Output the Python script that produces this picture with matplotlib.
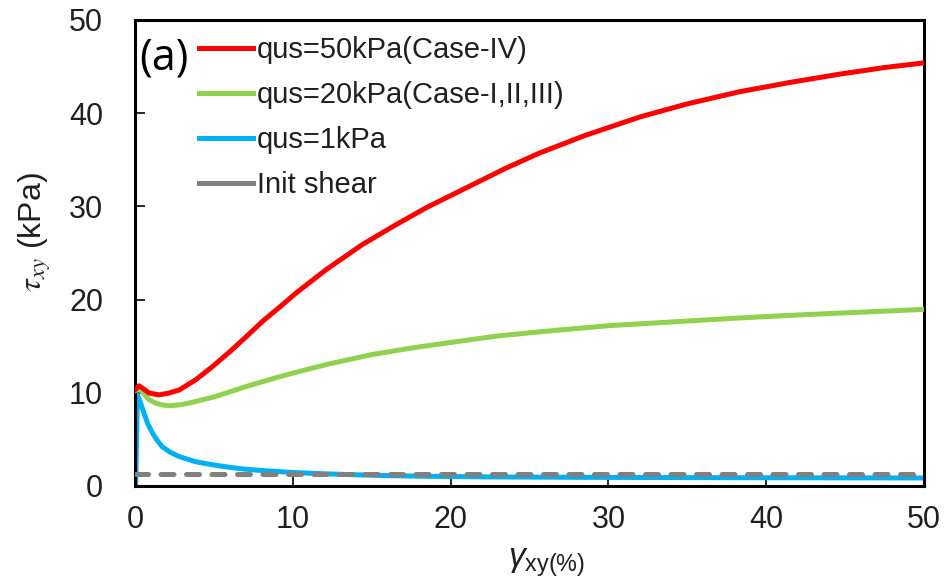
import matplotlib
matplotlib.use("Agg")
import matplotlib.pyplot as plt
from matplotlib.lines import Line2D

plt.rcParams['font.family'] = ['Liberation Sans', 'DejaVu Sans']
plt.rcParams['mathtext.fontset'] = 'custom'
plt.rcParams['mathtext.rm'] = 'Liberation Sans'
plt.rcParams['mathtext.it'] = 'Liberation Sans:italic'

# Shear stress tau_xy (kPa) versus shear strain gamma_xy (%)
x_q50 = [0.0, 0.25, 0.55, 0.9, 1.5, 2.1, 2.8, 3.85, 4.9, 6.0, 7.0, 8.1, 9.1, 10.2,
         12.1, 14.4, 16.5, 18.5, 21.0, 23.5, 25.6, 28.5, 32.0, 35.0, 38.3, 41.5,
         44.7, 47.5, 50.0]
y_q50 = [10.3, 10.75, 10.4, 9.97, 9.78, 9.95, 10.3, 11.4, 12.8, 14.4, 15.95, 17.7,
         19.1, 20.7, 23.2, 25.9, 28.0, 29.9, 32.0, 34.1, 35.7, 37.6, 39.6, 41.0,
         42.3, 43.3, 44.2, 44.9, 45.4]

x_q20 = [0.0, 0.25, 0.6, 0.9, 1.3, 1.7, 2.2, 3.0, 3.85, 5.0, 6.0, 7.0, 8.1, 9.0,
         10.2, 12.3, 15.0, 17.5, 20.0, 23.0, 26.0, 30.0, 34.0, 38.0, 42.0, 46.0, 50.0]
y_q20 = [10.2, 10.5, 9.8, 9.25, 8.9, 8.7, 8.6, 8.75, 9.07, 9.55, 10.1, 10.65, 11.2,
         11.65, 12.2, 13.1, 14.1, 14.8, 15.4, 16.1, 16.6, 17.2, 17.6, 18.0, 18.35,
         18.65, 18.95]

x_q1 = [0.04, 0.15, 0.35, 0.57, 0.8, 1.1, 1.4, 1.73, 2.2, 2.8, 3.85, 5.0, 6.0, 7.0,
        8.1, 10.2, 12.3, 15.0, 18.0, 22.0, 28.0, 35.0, 42.0, 50.0]
y_q1 = [0.0, 9.8, 8.9, 7.8, 6.7, 5.7, 4.9, 4.2, 3.65, 3.15, 2.6, 2.25, 2.0, 1.8,
        1.65, 1.43, 1.29, 1.15, 1.05, 0.98, 0.93, 0.9, 0.88, 0.86]

x_init = [0, 50]
y_init = [1.26, 1.26]

labels = ["qus=50kPa(Case-IV)", "qus=20kPa(Case-I,II,III)", "qus=1kPa", "Init shear"]
colors = ["#FF0000", "#92D050", "#00B0F0", "#808080"]

x_ticks = [0, 10, 20, 30, 40, 50]
y_ticks = [0, 10, 20, 30, 40, 50]

fig = plt.figure(figsize=(9.47, 5.83), dpi=100)
ax = fig.add_axes([0.1426, 0.1664, 0.8331, 0.7993])

lw = 3.6
style = dict(lw=lw, solid_capstyle='round', solid_joinstyle='round')
ax.plot(x_q1, y_q1, color=colors[2], zorder=2, **style)
ax.plot(x_q20, y_q20, color=colors[1], zorder=3, **style)
ax.plot(x_q50, y_q50, color=colors[0], zorder=4, **style)
ax.plot(x_init, y_init, color=colors[3], lw=lw, dashes=(2.6, 2.5),
        dash_capstyle='round', zorder=5)

ax.set_xlim(0, 50)
ax.set_ylim(0, 50)
ax.set_xticks(x_ticks)
ax.set_yticks(y_ticks)
ax.tick_params(direction='in', length=7, width=1.2, labelsize=22,
               labelcolor='#202020')
ax.tick_params(axis='x', pad=14)
ax.tick_params(axis='y', pad=23)
for s in ax.spines.values():
    s.set_linewidth(2.2)
    s.set_color('black')

handles = [Line2D([0], [0], color=c, lw=lw) for c in colors]
ax.legend(handles, labels, loc='upper left', bbox_to_anchor=(0.066, 0.99),
          frameon=False, fontsize=21, handlelength=1.85, handletextpad=0.15,
          labelspacing=0.58, borderaxespad=0.0, labelcolor='#202020')

ax.text(0.25, 45.9, "(a)", fontsize=31, family=['Open Sans', 'DejaVu Sans'],
        va='center', ha='left', color='black')

fig.text(0.037, 0.602, r"$\tau_{xy}$ (kPa)", rotation=90, fontsize=23,
         ha='center', va='center', math_fontfamily='stix', color='#202020')
fig.text(0.577, 0.035, r"$\mathit{\gamma}_{\rm xy(\%)}$", fontsize=24,
         ha='center', va='center', color='#202020')

fig.savefig("out.png", dpi=100)
